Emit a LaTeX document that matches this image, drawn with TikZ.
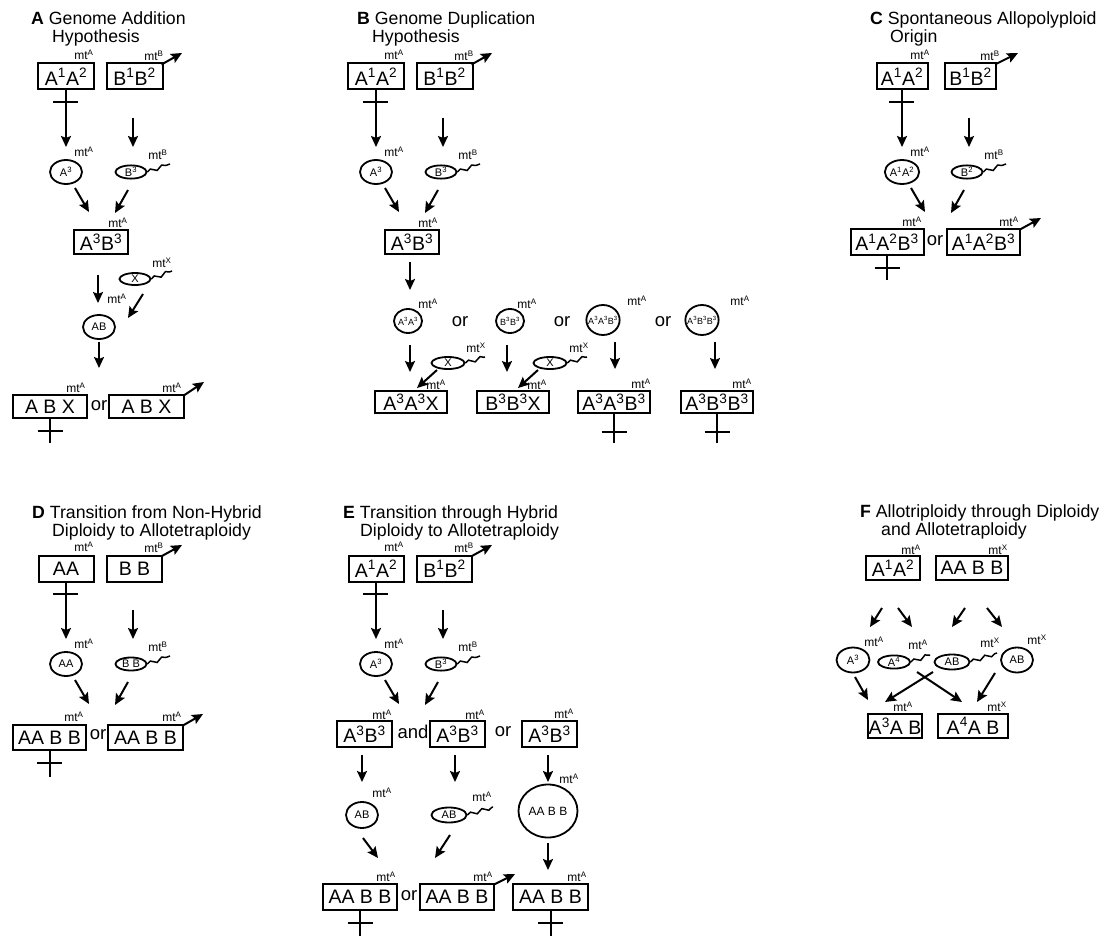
\documentclass[tikz,border=0pt]{standalone}
\usepackage{fontspec}
\setmainfont{Liberation Sans}
\usetikzlibrary{arrows.meta,shapes.geometric,decorations.pathmorphing}
\newcommand\sps[1]{\textsuperscript{#1}}
\newcommand\mtx[1]{mt\textsuperscript{#1}}
\tikzset{
 box/.style={draw, line width=2pt, inner sep=0pt, minimum height=26pt, font=\fontsize{19.5}{19.5}\selectfont},
 cell/.style={draw, ellipse, line width=1.8pt, inner sep=0pt, font=\fontsize{11}{11}\selectfont},
 cellsm/.style={draw, ellipse, line width=1.8pt, inner sep=-3pt, font=\fontsize{9}{9}\selectfont},
 mtl/.style={inner sep=0pt, font=\fontsize{12}{12}\selectfont},
 word/.style={inner sep=0pt, font=\fontsize{18.5}{18.5}\selectfont},
 ttl/.style={inner sep=0pt, anchor=base west, font=\fontsize{17.7}{17.7}\selectfont},
 arr/.style={line width=2pt, -{Stealth[length=11pt,width=10pt,inset=2pt]}},
 cr/.style={line width=2pt},
 tail/.style={line width=1.5pt, decorate, decoration={snake, amplitude=1.8pt, segment length=12pt}},
}
\newcommand\arw[3]{\coordinate (#1s) at (#2); \coordinate (#1e) at (#3); \draw[arr] (#1s) -- (#1e);}
\newcommand\crs[3]{\coordinate (#1l) at ({#2-12.5},#3); \coordinate (#1r) at ({#2+12.5},#3); \draw[cr] (#1l) -- (#1r);}
\newcommand\toprow[9]{%
\begin{scope}[shift={(#2,#3)}]
\node[mtl] (#1m1) at (84,55) {\mtx{A}};
\node[box,minimum width=#9pt] (#1b1) at (66,76.5) {#4};
\node[box,minimum width=#9pt] (#1b2) at (134.5,76.5) {#5};
\node[mtl] (#1m2) at (154,56) {\mtx{#6}};
\coordinate (#1g) at (182,53);
\draw[arr] ([shift={(-2pt,-2pt)}]#1b2.north east) -- (#1g);
\coordinate (#1t1) at (66,147);
\draw[arr] (#1b1.south) -- (#1t1);
\coordinate (#1xl) at (53,102); \coordinate (#1xr) at (78,102);
\draw[cr] (#1xl) -- (#1xr);
\arw{#1q}{133,118}{133,147}
\node[cell,minimum width=32pt,minimum height=24pt] (#1c1) at (66,172) {#7};
\node[mtl] (#1m3) at (84,152) {\mtx{A}};
\node[cell,minimum width=31pt,minimum height=13pt] (#1e1) at (131,172) {#8};
\coordinate (#1w) at (170,164);
\draw[tail] (#1e1.east) -- (#1w);
\node[mtl] (#1m4) at (158,155) {\mtx{#6}};
\arw{#1r}{75,188}{89,212}
\arw{#1s}{128,190}{115,213}
\end{scope}}
\begin{document}
\begin{tikzpicture}[x=1pt,y=-1pt]
\fill[white] (0,0) rectangle (1103,936);
\useasboundingbox (0,0) rectangle (1103,936);

% ---------------- titles
\node[ttl] (ta1) at (31,25) {\textbf{A} Genome Addition};
\node[ttl] (ta2) at (52,43) {Hypothesis};
\node[ttl] (tb1) at (357,25) {\textbf{B} Genome Duplication};
\node[ttl] (tb2) at (372,43) {Hypothesis};
\node[ttl] (tc1) at (870,25) {\textbf{C} Spontaneous Allopolyploid};
\node[ttl] (tc2) at (890,43) {Origin};
\node[ttl] (td1) at (32,518) {\textbf{D} Transition from Non-Hybrid};
\node[ttl] (td2) at (52,536) {Diploidy to Allotetraploidy};
\node[ttl] (te1) at (343,518) {\textbf{E} Transition through Hybrid};
\node[ttl] (te2) at (360,536) {Diploidy to Allotetraploidy};
\node[ttl] (tf1) at (860,517) {\textbf{F} Allotriploidy through Diploidy};
\node[ttl] (tf2) at (881,535) {and Allotetraploidy};

% ---------------- top rows
\toprow{a}{0}{0}{A\sps{1}A\sps{2}}{B\sps{1}B\sps{2}}{B}{A\sps{3}}{B\sps{3}}{56}
\toprow{b}{310}{0}{A\sps{1}A\sps{2}}{B\sps{1}B\sps{2}}{B}{A\sps{3}}{B\sps{3}}{56}
\toprow{c}{836}{0}{A\sps{1}A\sps{2}}{B\sps{1}B\sps{2}}{B}{A\sps{1}A\sps{2}}{B\sps{2}}{51}
\toprow{d}{0}{492}{AA}{B B}{B}{AA}{B B}{55}
\toprow{e}{310}{492}{A\sps{1}A\sps{2}}{B\sps{1}B\sps{2}}{B}{A\sps{3}}{B\sps{3}}{55}

% ---------------- panel A lower
\node[mtl] (aM5) at (118,223) {\mtx{A}};
\node[box,minimum width=54pt,minimum height=24pt] (aB3) at (101,242) {A\sps{3}B\sps{3}};
\node[cell,minimum width=31pt,minimum height=12pt] (aX) at (135,279) {X};
\coordinate (aXw) at (172,271); \draw[tail] (aX.east) -- (aXw);
\node[mtl] (aM6) at (162,263) {\mtx{X}};
\arw{aD1}{98,275}{98,303}
\node[mtl] (aM7) at (117,299) {\mtx{A}};
\arw{aD2}{143,294}{128,318}
\node[cell,minimum width=32pt,minimum height=24pt] (aAB) at (99,327) {AB};
\arw{aD3}{99,342}{99,368}
\node[mtl] (aM8) at (76,388) {\mtx{A}};
\node[box,minimum width=74pt,minimum height=23pt] (aF1) at (50,406.5) {A B X};
\node[word] (aor) at (99,406) {or};
\node[box,minimum width=75pt,minimum height=23pt] (aF2) at (146.5,406.5) {A B X};
\node[mtl] (aM9) at (172,388) {\mtx{A}};
\coordinate (aG2) at (204,382); \draw[arr] ([shift={(-2pt,-2pt)}]aF2.north east) -- (aG2);
\coordinate (aK) at (50,443); \draw[cr] (aF1.south) -- (aK);
\crs{aKx}{50}{431}

% ---------------- panel B lower
\node[mtl] (bM5) at (428,223) {\mtx{A}};
\node[box,minimum width=54pt,minimum height=24pt] (bB3) at (412,242) {A\sps{3}B\sps{3}};
\arw{bD1}{410,262}{410,290}
\node[cellsm,minimum width=28pt,minimum height=24pt] (bC1) at (408,321) {A\sps{3}A\sps{3}};
\node[mtl] (bM6) at (428,304) {\mtx{A}};
\node[word] (bor1) at (460,322) {or};
\node[cellsm,minimum width=28pt,minimum height=24pt] (bC2) at (510,321) {B\sps{3}B\sps{3}};
\node[mtl] (bM7) at (527,304) {\mtx{A}};
\node[word] (bor2) at (562,322) {or};
\node[cellsm,minimum width=32pt,minimum height=30pt] (bC3) at (603,320) {A\sps{3}A\sps{3}B\sps{3}};
\node[mtl] (bM8) at (637,301) {\mtx{A}};
\node[word] (bor3) at (663,322) {or};
\node[cellsm,minimum width=32pt,minimum height=30pt] (bC4) at (702,320) {A\sps{3}B\sps{3}B\sps{3}};
\node[mtl] (bM9) at (740,301) {\mtx{A}};
\arw{bD2}{410,345}{410,372}
\node[cell,minimum width=33pt,minimum height=12pt] (bX1) at (448,363) {X};
\coordinate (bX1w) at (485,357); \draw[tail] (bX1.east) -- (bX1w);
\node[mtl] (bM10) at (476,348) {\mtx{X}};
\arw{bD3}{437,370}{417,388}
\node[mtl] (bM11) at (436,385) {\mtx{A}};
\node[box,minimum width=72pt,minimum height=22pt] (bF1) at (411,402) {A\sps{3}A\sps{3}X};
\arw{bD4}{507,345}{507,372}
\node[cell,minimum width=33pt,minimum height=12pt] (bX2) at (550,363) {X};
\coordinate (bX2w) at (587,357); \draw[tail] (bX2.east) -- (bX2w);
\node[mtl] (bM12) at (579,348) {\mtx{X}};
\arw{bD5}{538,370}{518,388}
\node[mtl] (bM13) at (537,385) {\mtx{A}};
\node[box,minimum width=72pt,minimum height=22pt] (bF2) at (513,402) {B\sps{3}B\sps{3}X};
\arw{bD6}{615,342}{615,369}
\node[box,minimum width=72pt,minimum height=22pt] (bF3) at (614,402) {A\sps{3}A\sps{3}B\sps{3}};
\node[mtl] (bM14) at (641,384) {\mtx{A}};
\coordinate (bK3) at (614,443); \draw[cr] (bF3.south) -- (bK3);
\crs{bK3x}{614}{432}
\arw{bD7}{715,342}{715,369}
\node[box,minimum width=72pt,minimum height=22pt] (bF4) at (717,402) {A\sps{3}B\sps{3}B\sps{3}};
\node[mtl] (bM15) at (742,384) {\mtx{A}};
\coordinate (bK4) at (717,443); \draw[cr] (bF4.south) -- (bK4);
\crs{bK4x}{717}{432}

% ---------------- panel C lower
\node[mtl] (cM5) at (912,222) {\mtx{A}};
\node[box,minimum width=73pt] (cF1) at (887,242) {A\sps{1}A\sps{2}B\sps{3}};
\node[word] (cor) at (935,241) {or};
\node[box,minimum width=73pt] (cF2) at (983.5,242) {A\sps{1}A\sps{2}B\sps{3}};
\node[mtl] (cM6) at (1009,222) {\mtx{A}};
\coordinate (cG2) at (1041,218); \draw[arr] ([shift={(-2pt,-2pt)}]cF2.north east) -- (cG2);
\coordinate (cK) at (887,280); \draw[cr] (cF1.south) -- (cK);
\crs{cKx}{887}{268}

% ---------------- panel D lower
\node[mtl] (dM5) at (74,717) {\mtx{A}};
\node[box,minimum width=73pt,minimum height=25pt] (dF1) at (49.5,737.5) {AA B B};
\node[word] (dor) at (98,735) {or};
\node[box,minimum width=75pt,minimum height=25pt] (dF2) at (145.5,737.5) {AA B B};
\node[mtl] (dM6) at (172,717) {\mtx{A}};
\coordinate (dG2) at (203,714); \draw[arr] ([shift={(-2pt,-2pt)}]dF2.north east) -- (dG2);
\coordinate (dK) at (49.5,777); \draw[cr] (dF1.south) -- (dK);
\crs{dKx}{49.5}{763}

% ---------------- panel E lower
\node[mtl] (eM5) at (382,715) {\mtx{A}};
\node[box,minimum width=55pt] (eR1) at (364.5,734) {A\sps{3}B\sps{3}};
\node[word] (eand) at (413,732) {and};
\node[mtl] (eM6) at (475,715) {\mtx{A}};
\node[box,minimum width=55pt] (eR2) at (457.5,734) {A\sps{3}B\sps{3}};
\node[word] (eor1) at (503,732) {or};
\node[mtl] (eM7) at (564,714) {\mtx{A}};
\node[box,minimum width=55pt] (eR3) at (549.5,734) {A\sps{3}B\sps{3}};
\arw{eD1}{362,755}{362,782}
\arw{eD2}{455,755}{455,782}
\arw{eD3}{548,755}{548,782}
\node[mtl] (eM8) at (569,779) {\mtx{A}};
\node[cell,minimum width=32pt,minimum height=26pt] (eC1) at (362,815) {AB};
\node[mtl] (eM9) at (382,793) {\mtx{A}};
\node[cell,minimum width=35pt,minimum height=15pt] (eE1) at (449,815) {AB};
\coordinate (eE1w) at (493,807); \draw[tail] (eE1.east) -- (eE1w);
\node[mtl] (eM10) at (482,797) {\mtx{A}};
\node[cell,minimum width=59pt,minimum height=53pt,font=\fontsize{12}{12}\selectfont] (eC2) at (548,811) {AA B B};
\arw{eD4}{363,838}{378,858}
\arw{eD5}{450,835}{435,858}
\arw{eD6}{548,843}{548,870}
\node[mtl] (eM11) at (386,877) {\mtx{A}};
\node[box,minimum width=74pt] (eF1) at (360,897) {AA B B};
\node[word] (eor2) at (409,896) {or};
\node[box,minimum width=74pt] (eF2) at (457,897) {AA B B};
\node[mtl] (eM12) at (483,877) {\mtx{A}};
\coordinate (eG2) at (515,874); \draw[arr] ([shift={(-2pt,-2pt)}]eF2.north east) -- (eG2);
\node[box,minimum width=75pt] (eF3) at (550.5,897) {AA B B};
\node[mtl] (eM13) at (577,877) {\mtx{A}};
\coordinate (eK1) at (360,936); \draw[cr] (eF1.south) -- (eK1);
\crs{eK1x}{360}{923}
\coordinate (eK3) at (550.5,936); \draw[cr] (eF3.south) -- (eK3);
\crs{eK3x}{550.5}{923}

% ---------------- panel F
\node[mtl] (fM1) at (911,550) {\mtx{A}};
\node[box,minimum width=54pt,minimum height=24pt] (fB1) at (893,568) {A\sps{1}A\sps{2}};
\node[mtl] (fM2) at (998,550) {\mtx{X}};
\node[box,minimum width=72pt,minimum height=24pt] (fB2) at (972,568) {AA B B};
\arw{fA1}{882,608}{870,627}
\arw{fA2}{898,608}{912,627}
\arw{fA3}{965,608}{952,627}
\arw{fA4}{987,608}{1002,627}
\node[cell,minimum width=33pt,minimum height=25pt] (fC1) at (853,660) {A\sps{3}};
\node[mtl] (fM3) at (874,642) {\mtx{A}};
\node[cell,minimum width=32pt,minimum height=12pt] (fE1) at (894,662) {A\sps{4}};
\coordinate (fE1w) at (930,655); \draw[tail] (fE1.east) -- (fE1w);
\node[mtl] (fM4) at (918,645) {\mtx{A}};
\node[cell,minimum width=35pt,minimum height=15pt] (fE2) at (952,662) {AB};
\coordinate (fE2w) at (997,653); \draw[tail] (fE2.east) -- (fE2w);
\node[mtl] (fM5) at (990,643) {\mtx{X}};
\node[cell,minimum width=32pt,minimum height=25pt] (fC2) at (1017,660) {AB};
\node[mtl] (fM6) at (1037,640) {\mtx{X}};
\arw{fA5}{855,677}{868,700}
\arw{fA6}{917,672}{962,702}
\arw{fA7}{933,672}{885,702}
\arw{fA8}{995,673}{977,702}
\node[mtl] (fM7) at (903,707) {\mtx{A}};
\node[mtl] (fM8) at (997,707) {\mtx{X}};
\node[box,minimum width=54pt,minimum height=24pt] (fF1) at (895,726) {A\sps{3}A B};
\node[box,minimum width=70pt,minimum height=24pt] (fF2) at (973,726) {A\sps{4}A B};
\end{tikzpicture}
\end{document}
